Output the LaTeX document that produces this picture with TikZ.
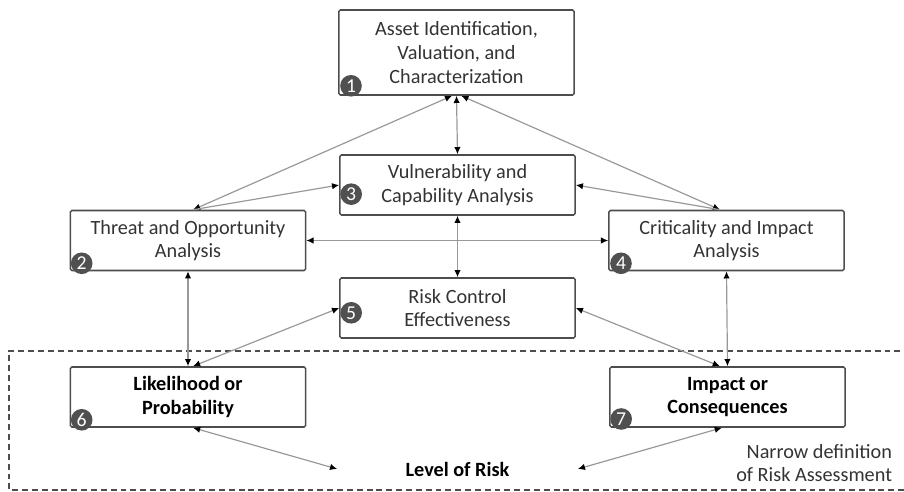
\documentclass[tikz,border=0pt]{standalone}
\usepackage{fontspec}
\setmainfont{Carlito}
\usepackage{tikz}
\usetikzlibrary{positioning,arrows.meta}
\definecolor{boxline}{HTML}{4D4D4D}
\definecolor{link}{HTML}{999999}
\definecolor{badge}{HTML}{505050}
\definecolor{txt}{HTML}{333333}

\begin{document}
\begin{tikzpicture}[x=0.025cm,y=-0.025cm,font=\fontsize{14.4}{16.8}\selectfont,text=txt,
 >={Latex[length=1.8mm,width=1.6mm,color=black]},
 box/.style={draw=boxline,line width=1.1pt,rounded corners=1pt,align=center,minimum width=5.875cm,minimum height=1.5cm,inner sep=2pt},
 num/.style={circle,fill=badge,text=white,inner sep=0pt,minimum size=0.54cm,font=\fontsize{14}{14}\selectfont},
 lnk/.style={draw=link,line width=0.85pt}]
\useasboundingbox (0,0) rectangle (904,492);
\draw[boxline,dashed,line width=0.9pt,dash pattern=on 4.2pt off 2.8pt] (920,351) -- (9,351) -- (9,490) -- (920,490);
\node[box,minimum height=2.125cm] (asset) at (456.5,52.5) {Asset Identification,\\Valuation, and\\Characterization};
\node[box] (vuln) at (457.5,185) {Vulnerability and\\Capability Analysis};
\node[box] (threat) at (188,240.5) {Threat and Opportunity\\Analysis};
\node[box] (crit) at (726.5,240.5) {Criticality and Impact\\Analysis};
\node[box] (ctrl) at (457.5,308) {Risk Control\\Effectiveness};
\node[box,text=black] (lik) at (188,397) {\textbf{Likelihood or}\\\textbf{Probability}};
\node[box,text=black] (imp) at (727.5,397) {\textbf{Impact or}\\\textbf{Consequences}};
\node[minimum width=6cm,inner sep=0pt,text=black] (risk) at (457.5,469) {\textbf{Level of Risk}};
\node[align=right,anchor=east] (narrow) at (897,463) {Narrow definition\\of Risk Assessment};
% numbered badges
\node[num] (n1) at ([xshift=0.32cm,yshift=0.25cm]asset.south west) {1};
\node[num] (n2) at ([xshift=0.3cm,yshift=0.2cm]threat.south west) {2};
\node[num] (n3) at ([xshift=0.3cm,yshift=0.54cm]vuln.south west) {3};
\node[num] (n4) at ([xshift=0.32cm,yshift=0.2cm]crit.south west) {4};
\node[num] (n5) at ([xshift=0.3cm,yshift=0.65cm]ctrl.south west) {5};
\node[num] (n6) at ([xshift=0.3cm,yshift=0.2cm]lik.south west) {6};
\node[num] (n7) at ([xshift=0.3cm,yshift=0.22cm]imp.south west) {7};
% links
\draw[lnk,<->] (asset.south) -- (vuln.north);
\draw[lnk,<->] ([xshift=-0.11cm]asset.south) -- ([xshift=0.125cm]threat.north);
\draw[lnk,<->] ([xshift=0.12cm]asset.south) -- ([xshift=-0.16cm]crit.north);
\draw[lnk,->] ([xshift=0.125cm]threat.north) -- (vuln.west);
\draw[lnk,->] ([xshift=-0.16cm]crit.north) -- (vuln.east);
\draw[lnk,<->] (threat.east) -- (crit.west);
\draw[lnk,<->] (vuln.south) -- (ctrl.north);
\draw[lnk,<->] (threat.south) -- (lik.north);
\draw[lnk,<->] (crit.south) -- (imp.north);
\draw[lnk,<->] ([xshift=0.125cm]lik.north) -- (ctrl.west);
\draw[lnk,<->] (ctrl.east) -- ([xshift=-0.19cm]imp.north);
\draw[lnk,<->] ([xshift=0.125cm]lik.south) -- (risk.west);
\draw[lnk,<->] ([xshift=-0.14cm]imp.south) -- (risk.east);
\end{tikzpicture}
\end{document}
